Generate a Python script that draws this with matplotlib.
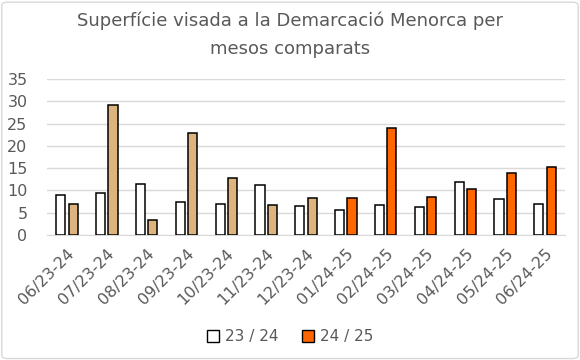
import numpy as np
import matplotlib.pyplot as plt
from matplotlib.patches import Patch, FancyBboxPatch

months = ["06/23-24", "07/23-24", "08/23-24", "09/23-24", "10/23-24", "11/23-24",
          "12/23-24", "01/24-25", "02/24-25", "03/24-25", "04/24-25", "05/24-25", "06/24-25"]
prev_year = [8.9, 9.4, 11.4, 7.35, 6.9, 11.2, 6.45, 5.55, 6.7, 6.2, 11.85, 8.0, 6.9]
this_year = [6.9, 29.2, 3.3, 22.9, 12.7, 6.7, 8.25, 8.25, 24.0, 8.5, 10.3, 13.9, 15.2]
this_colors = ["#DEB47E"] * 7 + ["#FF6600"] * 6

grey = "#595959"

fig = plt.figure(figsize=(5.8, 3.6), dpi=100)
ax = fig.add_axes([47 / 580, 1 - 235 / 360, 518 / 580, 156 / 360])

x = np.arange(len(months))
w = 0.23
gap = 0.04
ax.bar(x - w / 2 - gap, prev_year, w, color="white", edgecolor="black", linewidth=1.1, zorder=3)
ax.bar(x + w / 2 + gap, this_year, w, color=this_colors, edgecolor="black", linewidth=1.1, zorder=3)

ax.set_xlim(-0.5, len(months) - 0.5)
ax.set_ylim(0, 35)
ax.set_yticks(range(0, 36, 5))
ax.yaxis.grid(True, color="#D9D9D9", linewidth=1)
ax.set_axisbelow(True)
for s in ["top", "right", "left"]:
    ax.spines[s].set_visible(False)
ax.spines["bottom"].set_color("#D9D9D9")
ax.tick_params(axis="both", length=0, colors=grey, labelsize=11.5)
ax.tick_params(axis="y", pad=14)
ax.tick_params(axis="x", pad=8)
ax.set_xticks(x)
ax.set_xticklabels(months, rotation=45, ha="right", rotation_mode="anchor")

fig.text(0.5, 1 - 35 / 360, "Superfície visada a la Demarcació Menorca per\nmesos comparats",
         ha="center", va="center", fontsize=13, color=grey, linespacing=1.75)

handles = [Patch(facecolor="white", edgecolor="black", label="23 / 24"),
           Patch(facecolor="#FF6600", edgecolor="black", label="24 / 25")]
fig.legend(handles=handles, loc="center", bbox_to_anchor=(0.5, 1 - 337 / 360), ncol=2,
           frameon=False, fontsize=11, labelcolor=grey, handlelength=0.8, handleheight=0.8,
           handletextpad=0.4, columnspacing=1.5)

border = FancyBboxPatch((0.003, 0.004), 0.994, 0.99, boxstyle="round,pad=0,rounding_size=0.01",
                        transform=fig.transFigure, facecolor="none", edgecolor="#D9D9D9", linewidth=1)
fig.patches.append(border)

fig.savefig("out.png", dpi=100)
